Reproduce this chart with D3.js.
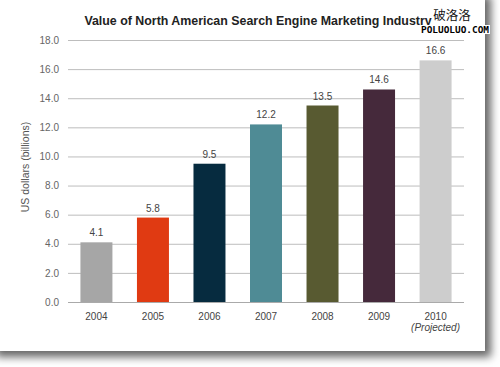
<!DOCTYPE html>
<html>
<head>
<meta charset="utf-8">
<script src="https://cdn.jsdelivr.net/npm/d3@7"></script>
<style>
html,body{margin:0;padding:0;background:#fff;}
svg{display:block;font-family:"Liberation Sans",Arial,sans-serif;}
</style>
</head>
<body>
<svg id="chart" width="500" height="367"></svg>
<script>
const years = ["2004","2005","2006","2007","2008","2009","2010"];
const values = [4.1, 5.8, 9.5, 12.2, 13.5, 14.6, 16.6];
const colors = ["#a6a6a6","#e03a12","#062b3f","#4f8b95","#585a31","#45293b","#cdcdcd"];
const yTicks = [0,2,4,6,8,10,12,14,16,18];
const titleText = "Value of North American Search Engine Marketing Industry";
const yLabel = "US dollars (billions)";
const projectedNote = "(Projected)";

const svg = d3.select("#chart");
const defs = svg.append("defs");
const f = defs.append("filter").attr("id","shadow").attr("x","-5%").attr("y","-5%").attr("width","115%").attr("height","115%");
f.append("feDropShadow").attr("dx",6).attr("dy",6).attr("stdDeviation",4)
 .attr("flood-color","#000").attr("flood-opacity",0.6);

svg.append("rect").attr("x",-10).attr("y",-10).attr("width",495).attr("height",361)
  .attr("fill","#fff").attr("filter","url(#shadow)");

const x = d3.scaleBand().domain(years).range([68,464]).paddingInner(0.434).paddingOuter(0.22);
const y = d3.scaleLinear().domain([0,18]).range([302,40]);

// gridlines
const yAxis = d3.axisLeft(y).tickValues(yTicks).tickFormat(d3.format(".1f"))
  .tickSize(-(464-68)).tickPadding(9);
const ga = svg.append("g").attr("transform","translate(68,0)").call(yAxis);
ga.select(".domain").remove();
ga.selectAll(".tick line").attr("stroke","#bdbdbd").attr("stroke-width",1);
ga.selectAll(".tick text").attr("fill","#666").attr("font-size",10)
  .attr("font-family","'Liberation Sans',Arial,sans-serif");

// bars
svg.append("g").selectAll("rect").data(years).join("rect")
  .attr("x", d => x(d))
  .attr("y", (d,i) => y(values[i]))
  .attr("width", x.bandwidth())
  .attr("height", (d,i) => y(0) - y(values[i]))
  .attr("fill", (d,i) => colors[i]);

// baseline
svg.append("line").attr("x1",68).attr("x2",464).attr("y1",y(0)+0.5).attr("y2",y(0)+0.5)
  .attr("stroke","#aaa");

// value labels
svg.append("g").selectAll("text").data(years).join("text")
  .attr("x", d => x(d) + x.bandwidth()/2)
  .attr("y", (d,i) => y(values[i]) - 6)
  .attr("text-anchor","middle").attr("font-size",10).attr("fill","#444")
  .text((d,i) => values[i].toFixed(1));

// x labels
const xAxis = d3.axisBottom(x).tickSize(0).tickPadding(11);
const gx = svg.append("g").attr("transform",`translate(0,${y(0)})`).call(xAxis);
gx.select(".domain").remove();
gx.selectAll(".tick text").attr("fill","#444").attr("font-size",10)
  .attr("font-family","'Liberation Sans',Arial,sans-serif");

svg.append("text").attr("x", x("2010") + x.bandwidth()/2).attr("y", 331)
  .attr("text-anchor","middle").attr("font-size",10).attr("font-style","italic")
  .attr("fill","#444").text(projectedNote);

// y label
svg.append("text").attr("transform","translate(29,167) rotate(-90)")
  .attr("text-anchor","middle").attr("font-size",10.5).attr("fill","#555").text(yLabel);

// title
svg.append("text").attr("x",258).attr("y",25).attr("text-anchor","middle")
  .attr("font-size",12.4).attr("font-weight","bold").attr("fill","#222").text(titleText);

// watermark
svg.append("rect").attr("x",420).attr("y",25).attr("width",70).attr("height",9).attr("fill","#fff");
svg.append("text").attr("x",452).attr("y",20).attr("text-anchor","middle")
  .attr("font-size",12.5).attr("fill","#111")
  .attr("font-family","'Noto Sans CJK SC',sans-serif").text("破洛洛");
svg.append("text").attr("x",421).attr("y",33).attr("font-size",9).attr("font-weight","bold")
  .attr("fill","#000").attr("font-family","'DejaVu Sans Mono',monospace")
  .attr("textLength",68).attr("lengthAdjust","spacingAndGlyphs").text("POLUOLUO.COM");
</script>
</body>
</html>
